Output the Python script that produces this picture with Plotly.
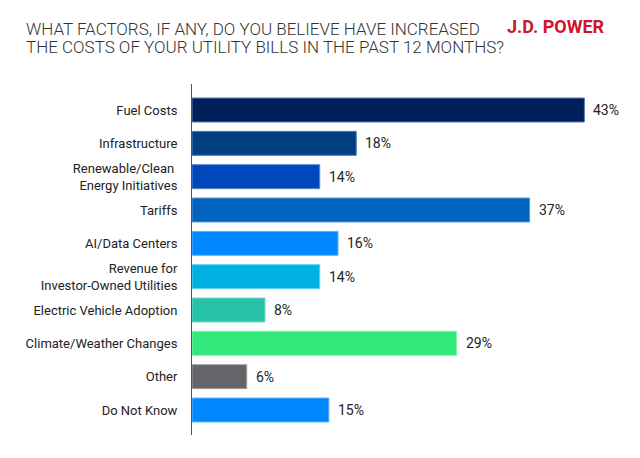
import plotly.graph_objects as go

categories = [
    "Fuel Costs",
    "Infrastructure",
    "Renewable/Clean <br>Energy Initiatives",
    "Tariffs",
    "AI/Data Centers",
    "Revenue for<br>Investor-Owned Utilities",
    "Electric Vehicle Adoption",
    "Climate/Weather Changes",
    "Other",
    "Do Not Know",
]
values = [43, 18, 14, 37, 16, 14, 8, 29, 6, 15]
colors = ["#00205B", "#004080", "#0047BB", "#0063BE", "#0088FF",
          "#00B2E3", "#26C2A6", "#33E87A", "#636569", "#0088FF"]
edge_colors = ["#5A79A8", "#4F7FAF", "#5A86D6", "#5A96D6", "#66B5FF",
               "#66D2F0", "#7ADAC8", "#85F2B0", "#A0A2A5", "#66B5FF"]
value_labels = [f"{v}%" for v in values]

title_line1 = "WHAT FACTORS, IF ANY, DO YOU BELIEVE HAVE INCREASED"
title_line2 = "THE COSTS OF YOUR UTILITY BILLS IN THE PAST 12 MONTHS?"
brand = "J.D. POWER"

W, H = 640, 458
L, R, T, B = 192, 10, 84, 23
PW, PH = W - L - R, H - T - B


def px_x(x):
    return (x - L) / PW


def px_y(y):
    return 1 - (y - T) / PH


fig = go.Figure()
fig.add_trace(go.Bar(
    x=values,
    y=categories,
    orientation="h",
    marker=dict(color=colors, line=dict(color=edge_colors, width=1)),
    hoverinfo="x+y",
))

for c, v, t in zip(categories, values, value_labels):
    fig.add_annotation(x=v, y=c, text=t, xanchor="left", yanchor="middle",
                       xshift=7, showarrow=False,
                       font=dict(family="Roboto", size=14, color="#222222"))

fig.update_layout(
    width=W, height=H,
    margin=dict(l=L, r=R, t=T, b=B),
    paper_bgcolor="white", plot_bgcolor="white",
    bargap=0.28,
    showlegend=False,
    font=dict(family="Roboto", size=13, color="#222222"),
    xaxis=dict(range=[0, 48], visible=False, fixedrange=True),
    yaxis=dict(
        range=[9.75, -0.78],
        showline=True, linecolor="#555555", linewidth=1,
        showgrid=False, zeroline=False,
        ticks="", ticklabelstandoff=11,
        tickfont=dict(family="Roboto", size=13, color="#222222"),
        fixedrange=True,
    ),
)

fig.add_annotation(xref="paper", yref="paper", x=px_x(24), y=px_y(29),
                   xanchor="left", yanchor="middle", align="left",
                   text=title_line1, showarrow=False,
                   font=dict(family="Roboto", size=17, color="#333333", weight=300))
fig.add_annotation(xref="paper", yref="paper", x=px_x(24), y=px_y(47),
                   xanchor="left", yanchor="middle", align="left",
                   text=title_line2, showarrow=False,
                   font=dict(family="Roboto", size=17, color="#333333", weight=300))
fig.add_annotation(xref="paper", yref="paper", x=px_x(607), y=px_y(27),
                   xanchor="right", yanchor="middle",
                   text="<b>" + brand + "</b>", showarrow=False,
                   font=dict(family="Roboto", size=18, color="#D0122B"))

fig.write_html("out.html")
